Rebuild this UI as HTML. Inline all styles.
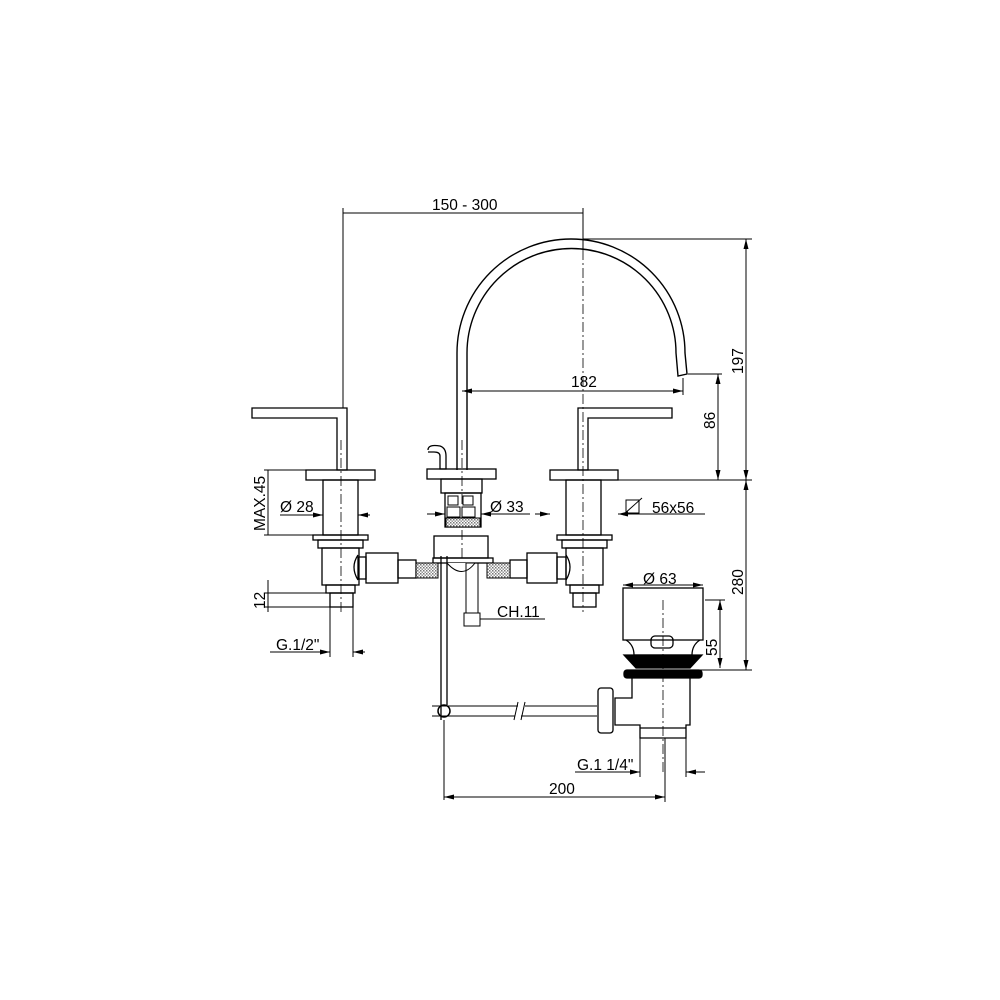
<!DOCTYPE html>
<html><head><meta charset="utf-8"><style>
html,body{margin:0;padding:0;background:#fff}
svg{display:block}
text{font-family:"Liberation Sans",Arial,sans-serif;font-size:15.5px;fill:#000}
</style></head><body>
<svg width="1000" height="1000" viewBox="0 0 1000 1000" xmlns="http://www.w3.org/2000/svg">
<defs>
<pattern id="h" width="3" height="3" patternUnits="userSpaceOnUse"><rect width="3" height="3" fill="#fff"/><rect width="1.5" height="1.5" fill="#777"/><rect x="1.5" y="1.5" width="1.5" height="1.5" fill="#999"/></pattern>
<marker id="a" markerWidth="10" markerHeight="6" refX="10" refY="3" orient="auto-start-reverse" markerUnits="userSpaceOnUse"><path d="M0,0.5 L10,3 L0,5.5Z" fill="#000"/></marker>
</defs>
<g fill="none" stroke="#000" stroke-width="1">
<g stroke-dasharray="10,3,2,3" stroke-width="0.8">
<line x1="341" y1="440" x2="341" y2="612"/>
<line x1="583" y1="250" x2="583" y2="612"/>
<line x1="462" y1="440" x2="462" y2="560"/>
<line x1="663" y1="600" x2="663" y2="775"/>
</g>
<line x1="343" y1="213" x2="583" y2="213"/>
<line x1="343" y1="208" x2="343" y2="408"/>
<line x1="583" y1="208" x2="583" y2="250"/>
<path d="M457,470 L457,353 A114,114 0 0 1 685,353 L687,374 L678,376 L676,353 A104,104 0 0 0 467,353 L467,470" stroke-width="1.4"/>
<line x1="462" y1="391" x2="683" y2="391" marker-start="url(#a)" marker-end="url(#a)"/>
<line x1="683" y1="378" x2="683" y2="395"/>
<line x1="583" y1="239" x2="752" y2="239"/>
<line x1="746" y1="239" x2="746" y2="480" marker-start="url(#a)" marker-end="url(#a)"/>
<line x1="688" y1="374" x2="722" y2="374"/>
<line x1="718" y1="374" x2="718" y2="480" marker-start="url(#a)" marker-end="url(#a)"/>
<line x1="600" y1="480" x2="752" y2="480"/>
<line x1="746" y1="480" x2="746" y2="670" marker-start="url(#a)" marker-end="url(#a)"/>
<line x1="690" y1="670" x2="752" y2="670"/>
<g stroke-width="1.3">
<path d="M252,408 L347,408 L347,470 L337,470 L337,418 L252,418Z"/>
<rect x="306" y="470" width="69" height="10"/>
<rect x="323" y="480" width="35" height="55"/>
<rect x="313" y="535" width="55" height="5"/>
<rect x="318" y="540" width="45" height="8"/>
<rect x="322" y="548" width="37" height="37"/>
<rect x="326" y="585" width="29" height="8"/>
<rect x="330" y="593" width="23" height="14"/>
<path d="M358,555 Q350,567 358,580"/>
<rect x="358" y="557" width="8" height="22"/>
<rect x="366" y="553" width="32" height="30"/>
<rect x="398" y="560" width="18" height="18"/>
<path d="M578,408 L672,408 L672,418 L588,418 L588,470 L578,470Z"/>
<rect x="550" y="470" width="68" height="10"/>
<rect x="566" y="480" width="35" height="55"/>
<rect x="557" y="535" width="55" height="5"/>
<rect x="562" y="540" width="45" height="8"/>
<rect x="566" y="548" width="37" height="37"/>
<rect x="570" y="585" width="29" height="8"/>
<rect x="573" y="593" width="23" height="14"/>
<path d="M566,555 Q574,567 566,580"/>
<rect x="557" y="557" width="9" height="22"/>
<rect x="527" y="553" width="30" height="30"/>
<rect x="510" y="560" width="17" height="18"/>
<path d="M428,450 Q428,444 440,446 Q446,448 446,456 L446,469 L440,469 L440,456 Q440,452 434,452 L428,452"/>
<rect x="427" y="469" width="69" height="10"/>
<rect x="441" y="479" width="41" height="14"/>
<rect x="445" y="493" width="36" height="34"/>
<rect x="434" y="536" width="54" height="22"/>
<rect x="433" y="558" width="60" height="5"/>
</g>
<rect x="448" y="496" width="10" height="9"/><rect x="463" y="496" width="10" height="9"/>
<rect x="447" y="507" width="13" height="10"/><rect x="462" y="507" width="13" height="10"/>
<rect x="446" y="518" width="34" height="9" fill="url(#h)"/>
<rect x="416" y="563" width="22" height="15" fill="url(#h)"/>
<rect x="487" y="563" width="23" height="15" fill="url(#h)"/>
<path d="M447,563 Q462,580 475,563" fill="#fff"/>
<rect x="466" y="563" width="12" height="50"/>
<rect x="464" y="613" width="16" height="13"/>
<line x1="441" y1="556" x2="441" y2="720" stroke-width="1.3"/>
<line x1="447" y1="556" x2="447" y2="705" stroke-width="1.3"/>
<path d="M432,706 L518,706 M525,706 L597,706 M432,716 L515,716 M521,716 L597,716"/>
<line x1="518" y1="702" x2="514" y2="720"/><line x1="525" y1="702" x2="521" y2="720"/>
<circle cx="444" cy="711" r="6" stroke-width="1.5"/>
<line x1="444" y1="720" x2="444" y2="800"/>
<g stroke-width="1.3">
<rect x="623" y="588" width="80" height="52"/>
<path d="M626,640 Q634,645 634,655 L692,655 Q692,645 700,640"/>
<rect x="651" y="636" width="22" height="12" rx="4"/>
<path d="M624,655 L702,655 L690,668 L636,668Z" fill="#000"/>
<rect x="624" y="670" width="78" height="8" rx="3" fill="#000"/>
<path d="M632,678 L632,698 L615,698 L615,725 L640,725 L640,738 L686,738 L686,725 L690,725 L690,678"/>
<rect x="598" y="688" width="15" height="45" rx="3"/>
<line x1="640" y1="728" x2="686" y2="728"/>
</g>
<line x1="268" y1="470" x2="268" y2="535"/>
<line x1="264" y1="470" x2="306" y2="470"/><line x1="264" y1="535" x2="313" y2="535"/>
<line x1="280" y1="515" x2="323" y2="515" marker-end="url(#a)"/>
<line x1="358" y1="515" x2="370" y2="515" marker-start="url(#a)"/>
<line x1="268" y1="580" x2="268" y2="612"/>
<line x1="264" y1="593" x2="326" y2="593"/><line x1="264" y1="607" x2="330" y2="607"/>
<line x1="330" y1="607" x2="330" y2="657"/><line x1="353" y1="607" x2="353" y2="657"/>
<line x1="270" y1="652" x2="330" y2="652" marker-end="url(#a)"/>
<line x1="353" y1="652" x2="365" y2="652" marker-start="url(#a)"/>
<line x1="427" y1="514" x2="445" y2="514" marker-end="url(#a)"/>
<line x1="481" y1="514" x2="530" y2="514" marker-start="url(#a)"/>
<line x1="535" y1="514" x2="550" y2="514" marker-end="url(#a)"/>
<line x1="618" y1="514" x2="705" y2="514" marker-start="url(#a)"/>
<rect x="626" y="500" width="13" height="13"/><line x1="623" y1="515" x2="642" y2="498"/>
<line x1="480" y1="619" x2="545" y2="619"/>
<line x1="623" y1="585" x2="703" y2="585" marker-start="url(#a)" marker-end="url(#a)"/>
<line x1="705" y1="600" x2="725" y2="600"/>
<line x1="720" y1="600" x2="720" y2="668" marker-start="url(#a)" marker-end="url(#a)"/>
<line x1="640" y1="738" x2="640" y2="777"/><line x1="686" y1="738" x2="686" y2="777"/>
<line x1="575" y1="772" x2="640" y2="772" marker-end="url(#a)"/>
<line x1="686" y1="772" x2="705" y2="772" marker-start="url(#a)"/>
<line x1="665" y1="738" x2="665" y2="802"/>
<line x1="444" y1="797" x2="665" y2="797" marker-start="url(#a)" marker-end="url(#a)"/>
</g>
<text x="432" y="210">150 - 300</text>
<text x="571" y="387">182</text>
<text transform="translate(743,374) rotate(-90)">197</text>
<text transform="translate(715,429) rotate(-90)">86</text>
<text transform="translate(743,595) rotate(-90)">280</text>
<text transform="translate(265,531) rotate(-90)">MAX.45</text>
<text transform="translate(265,609) rotate(-90)">12</text>
<text x="280" y="512">Ø 28</text>
<text x="490" y="512">Ø 33</text>
<text x="652" y="513">56x56</text>
<text x="497" y="617">CH.11</text>
<text x="643" y="584">Ø 63</text>
<text transform="translate(717,656) rotate(-90)">55</text>
<text x="276" y="650">G.1/2"</text>
<text x="577" y="770">G.1 1/4"</text>
<text x="549" y="794">200</text>
</svg>
</body></html>
